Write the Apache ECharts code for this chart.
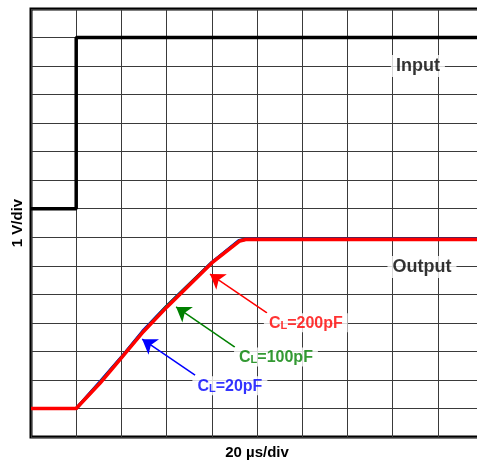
<!DOCTYPE html>
<html>
<head>
<meta charset="utf-8">
<script src="https://cdn.jsdelivr.net/npm/echarts@6/dist/echarts.min.js"></script>
<style>
  html, body { margin: 0; padding: 0; background: #fff; }
  #chart { width: 477px; height: 462px; }
</style>
</head>
<body>
<div id="chart"></div>
<script>
// scope screen, in divisions (x: 20 us/div, y: 1 V/div)
const inputTrace = [[0, 8], [1, 8], [1, 14], [10, 14]];
const out20pF  = [[0, 1], [1, 1], [1.51, 1.91], [2, 2.8], [2.47, 3.71], [3, 4.59], [4, 6.12], [4.6, 6.89], [4.73, 6.93], [10, 6.93]];
const out100pF = [[0, 1], [1, 1], [1.52, 1.9], [2, 2.79], [2.48, 3.7], [3, 4.58], [4, 6.11], [4.61, 6.88], [4.74, 6.92], [10, 6.92]];
const out200pF = [[0, 1], [1, 1], [1.53, 1.89], [2, 2.77], [2.48, 3.68], [3.01, 4.56], [4, 6.1], [4.62, 6.87], [4.75, 6.92], [10, 6.92]];

// annotation arrows: [tail, tip]
const arrow20pF  = [[3.63, 2.17], [2.46, 3.43]];
const arrow100pF = [[4.51, 3.15], [3.21, 4.56]];
const arrow200pF = [[5.22, 4.35], [3.96, 5.71]];

// text notes: [x, y, text]
const traceNotes = [[8.56, 13.0, 'Input'], [8.65, 5.96, 'Output']];
const capNotes = [[4.4, 1.8, '20pF'], [5.42, 2.8, '100pF'], [6.08, 4.0, '200pF']];

const chart = echarts.init(document.getElementById('chart'));

function arrowLine(pts, color) {
    return {
        silent: true,
        animation: false,
        symbol: ['none', 'arrow'],
        symbolSize: 14,
        label: { show: false },
        lineStyle: { color: color, width: 1.5, type: 'solid' },
        emphasis: { disabled: true },
        data: [[{ coord: pts[0] }, { coord: pts[1] }]]
    };
}

const capColors = ['#0000ff', '#008000', '#ff0000'];

chart.setOption({
    animation: false,
    grid: {
        left: 31, right: -6, top: 9, bottom: 25,
        outerBoundsMode: 'none', containLabel: false,
        show: true, borderColor: '#000', borderWidth: 3
    },
    xAxis: {
        type: 'value', min: 0, max: 10, interval: 1,
        name: '20 µs/div', nameLocation: 'middle', nameGap: 8,
        nameTextStyle: { fontFamily: 'Liberation Sans', fontWeight: 'bold', fontSize: 15, color: '#000' },
        axisLine: { show: false }, axisTick: { show: false }, axisLabel: { show: false },
        splitLine: { lineStyle: { color: '#3a3a3a', width: 1 } }
    },
    yAxis: {
        type: 'value', min: 0, max: 15, interval: 1,
        name: '1 V/div', nameLocation: 'middle', nameGap: 6, nameRotate: 90,
        nameTextStyle: { fontFamily: 'Liberation Sans', fontWeight: 'bold', fontSize: 15, color: '#000' },
        axisLine: { show: false }, axisTick: { show: false }, axisLabel: { show: false },
        splitLine: { lineStyle: { color: '#3a3a3a', width: 1 } }
    },
    series: [
        {
            name: 'Input', type: 'line', data: inputTrace, symbol: 'none',
            lineStyle: { color: '#000', width: 3.5 }, z: 5
        },
        {
            name: 'CL=20pF', type: 'line', data: out20pF, symbol: 'none',
            lineStyle: { color: capColors[0], width: 3 }, z: 3,
            markLine: arrowLine(arrow20pF, capColors[0])
        },
        {
            name: 'CL=100pF', type: 'line', data: out100pF, symbol: 'none',
            lineStyle: { color: capColors[1], width: 3 }, z: 4,
            markLine: arrowLine(arrow100pF, capColors[1])
        },
        {
            name: 'CL=200pF', type: 'line', data: out200pF, symbol: 'none',
            lineStyle: { color: capColors[2], width: 3.5 }, z: 5,
            markLine: arrowLine(arrow200pF, capColors[2])
        },
        {
            name: 'traceNotes', type: 'scatter', symbolSize: 0, z: 10, silent: true,
            data: traceNotes.map(n => ({ value: [n[0], n[1]], name: n[2] })),
            label: {
                show: true, position: 'inside', formatter: p => p.name,
                fontFamily: 'Liberation Sans', fontWeight: 'bold', fontSize: 18, color: '#000',
                backgroundColor: '#fff', padding: [2, 5]
            }
        },
        {
            name: 'capNotes', type: 'scatter', symbolSize: 0, z: 10, silent: true,
            data: capNotes.map((n, i) => ({
                value: [n[0], n[1]], name: n[2],
                label: { color: capColors[i], rich: { s: { color: capColors[i] }, b: { color: capColors[i] } } }
            })),
            label: {
                show: true, position: 'inside',
                formatter: p => '{b|C}{s|L}{b|=' + p.name + '}',
                backgroundColor: '#fff', padding: [1, 5],
                rich: {
                    b: { fontFamily: 'Liberation Sans', fontWeight: 'bold', fontSize: 16, verticalAlign: 'bottom' },
                    s: { fontFamily: 'Liberation Sans', fontWeight: 'bold', fontSize: 11, padding: [6, 0, 0, 0], verticalAlign: 'bottom' }
                }
            }
        }
    ]
});
</script>
</body>
</html>
